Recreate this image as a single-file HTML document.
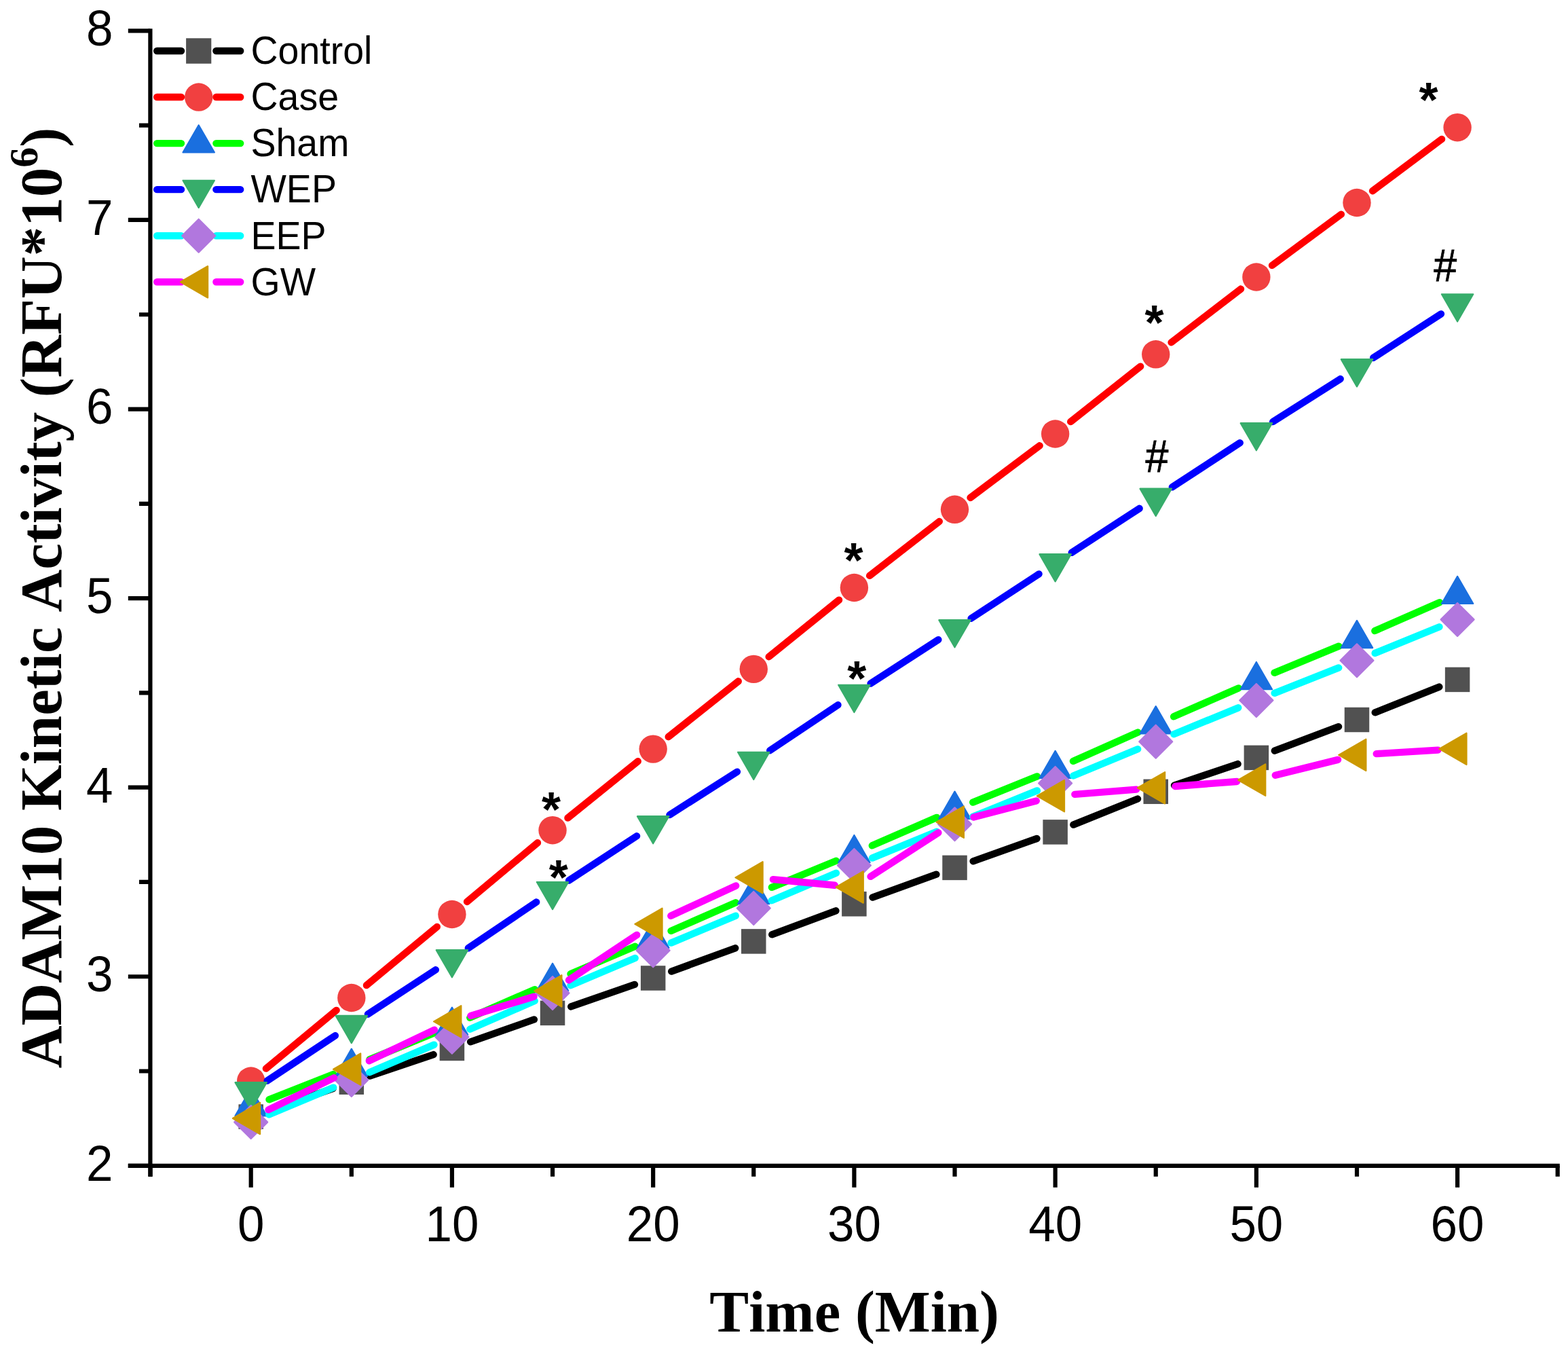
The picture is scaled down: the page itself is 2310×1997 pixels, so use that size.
<!DOCTYPE html>
<html lang="en"><head><meta charset="utf-8"><title>ADAM10 Kinetic Activity</title>
<style>
html,body{margin:0;padding:0;background:#fff;}
body{width:2310px;height:1997px;}
svg{display:block;}
text{font-kerning:none;}
.tick{font-family:"Liberation Sans",Arial,sans-serif;font-size:71px;fill:#000;}
.leg{font-family:"Liberation Sans",Arial,sans-serif;font-size:55.5px;fill:#000;}
.ttl{font-family:"Liberation Serif","Times New Roman",serif;font-weight:bold;font-size:87.0px;fill:#000;font-kerning:none;}
.star{font-family:"Liberation Sans",Arial,sans-serif;font-weight:bold;font-size:72px;fill:#000;}
.hash{font-family:"Liberation Sans",Arial,sans-serif;font-size:62.5px;fill:#000;stroke:#000;stroke-width:0.8px;}
</style></head><body>
<svg width="2310" height="1997" viewBox="0 0 2310 1997" role="img" aria-label="ADAM10 kinetic activity over time">
<rect width="2310" height="1997" fill="#ffffff"/>
<g id="plots" stroke-linecap="round" fill="none">
<g id="s-Control">
<path d="M396.94 1635.24L490.58 1603.06M545.12 1584.52L638.64 1553.08M693.11 1534.36L786.88 1501.44M841.26 1482.46L934.96 1449.94M989.22 1430.62L1083.23 1396.28M1137.28 1376.36L1231.41 1341.34M1285.5 1321.53L1379.43 1287.67M1433.66 1268.28L1527.49 1235.02M1581.35 1214.65L1676.03 1176.55M1730.05 1156.61L1823.58 1125.09M1877.81 1105.73L1972.04 1070.17M2025.74 1049.33L2120.35 1011.57" stroke="#000000" stroke-width="10.4"/>
<rect x="351.45" y="1626.35" width="36.5" height="36.5" fill="#515151"/>
<rect x="499.57" y="1575.45" width="36.5" height="36.5" fill="#515151"/>
<rect x="647.68" y="1525.65" width="36.5" height="36.5" fill="#515151"/>
<rect x="795.8" y="1473.65" width="36.5" height="36.5" fill="#515151"/>
<rect x="943.92" y="1422.25" width="36.5" height="36.5" fill="#515151"/>
<rect x="1092.03" y="1368.15" width="36.5" height="36.5" fill="#515151"/>
<rect x="1240.15" y="1313.05" width="36.5" height="36.5" fill="#515151"/>
<rect x="1388.27" y="1259.65" width="36.5" height="36.5" fill="#515151"/>
<rect x="1536.39" y="1207.15" width="36.5" height="36.5" fill="#515151"/>
<rect x="1684.5" y="1147.55" width="36.5" height="36.5" fill="#515151"/>
<rect x="1832.62" y="1097.65" width="36.5" height="36.5" fill="#515151"/>
<rect x="1980.74" y="1041.75" width="36.5" height="36.5" fill="#515151"/>
<rect x="2128.85" y="982.65" width="36.5" height="36.5" fill="#515151"/>
</g>
<g id="s-Case">
<path d="M391.89 1573.65L495.62 1487.85M539.97 1451.1L643.78 1364.9M688.03 1328.03L791.95 1241.17M836.46 1204.61L939.76 1121.19M984.72 1085.18L1087.74 1003.32M1132.67 967.28L1236.02 883.62M1281.14 847.82L1383.79 767.98M1429.54 733L1531.61 656.3M1577.22 621.13L1680.17 539.67M1725.59 504.25L1828.03 425.55M1874.03 390.88L1975.83 315.62M2022.05 281.25L2124.04 204.95" stroke="#FF0000" stroke-width="10.4"/>
<circle cx="369.7" cy="1592" r="20.7" fill="#F14040"/>
<circle cx="517.82" cy="1469.5" r="20.7" fill="#F14040"/>
<circle cx="665.93" cy="1346.5" r="20.7" fill="#F14040"/>
<circle cx="814.05" cy="1222.7" r="20.7" fill="#F14040"/>
<circle cx="962.17" cy="1103.1" r="20.7" fill="#F14040"/>
<circle cx="1110.28" cy="985.4" r="20.7" fill="#F14040"/>
<circle cx="1258.4" cy="865.5" r="20.7" fill="#F14040"/>
<circle cx="1406.52" cy="750.3" r="20.7" fill="#F14040"/>
<circle cx="1554.64" cy="639" r="20.7" fill="#F14040"/>
<circle cx="1702.75" cy="521.8" r="20.7" fill="#F14040"/>
<circle cx="1850.87" cy="408" r="20.7" fill="#F14040"/>
<circle cx="1998.99" cy="298.5" r="20.7" fill="#F14040"/>
<circle cx="2147.1" cy="187.7" r="20.7" fill="#F14040"/>
</g>
<g id="s-Sham">
<path d="M396.49 1619.32L491.03 1581.98M544.45 1560.43L639.3 1521.37M692.32 1498.86L787.67 1457.14M840.55 1434.31L935.67 1393.79M988.56 1370.97L1083.89 1329.33M1136.92 1306.83L1231.77 1267.77M1284.81 1245.32L1380.11 1203.88M1433.22 1181.62L1527.93 1143.38M1580.96 1120.92L1676.43 1078.58M1729.12 1055.31L1824.5 1013.39M1877.49 990.82L1972.36 951.68M2025.35 929.11L2120.74 887.19" stroke="#00FF00" stroke-width="10.4"/>
<polygon points="369.7,1603.1 346.49,1643.3 392.91,1643.3" fill="#1A6FDF" stroke="#1A6FDF" stroke-width="2.2" stroke-linejoin="round"/>
<polygon points="517.82,1544.6 494.61,1584.8 541.03,1584.8" fill="#1A6FDF" stroke="#1A6FDF" stroke-width="2.2" stroke-linejoin="round"/>
<polygon points="665.93,1483.6 642.72,1523.8 689.14,1523.8" fill="#1A6FDF" stroke="#1A6FDF" stroke-width="2.2" stroke-linejoin="round"/>
<polygon points="814.05,1418.8 790.84,1459 837.26,1459" fill="#1A6FDF" stroke="#1A6FDF" stroke-width="2.2" stroke-linejoin="round"/>
<polygon points="962.17,1355.7 938.96,1395.9 985.38,1395.9" fill="#1A6FDF" stroke="#1A6FDF" stroke-width="2.2" stroke-linejoin="round"/>
<polygon points="1110.28,1291 1087.08,1331.2 1133.49,1331.2" fill="#1A6FDF" stroke="#1A6FDF" stroke-width="2.2" stroke-linejoin="round"/>
<polygon points="1258.4,1230 1235.19,1270.2 1281.61,1270.2" fill="#1A6FDF" stroke="#1A6FDF" stroke-width="2.2" stroke-linejoin="round"/>
<polygon points="1406.52,1165.6 1383.31,1205.8 1429.73,1205.8" fill="#1A6FDF" stroke="#1A6FDF" stroke-width="2.2" stroke-linejoin="round"/>
<polygon points="1554.64,1105.8 1531.43,1146 1577.85,1146" fill="#1A6FDF" stroke="#1A6FDF" stroke-width="2.2" stroke-linejoin="round"/>
<polygon points="1702.75,1040.1 1679.54,1080.3 1725.96,1080.3" fill="#1A6FDF" stroke="#1A6FDF" stroke-width="2.2" stroke-linejoin="round"/>
<polygon points="1850.87,975 1827.66,1015.2 1874.08,1015.2" fill="#1A6FDF" stroke="#1A6FDF" stroke-width="2.2" stroke-linejoin="round"/>
<polygon points="1998.99,913.9 1975.78,954.1 2022.2,954.1" fill="#1A6FDF" stroke="#1A6FDF" stroke-width="2.2" stroke-linejoin="round"/>
<polygon points="2147.1,848.8 2123.89,889 2170.31,889" fill="#1A6FDF" stroke="#1A6FDF" stroke-width="2.2" stroke-linejoin="round"/>
</g>
<g id="s-WEP">
<path d="M393.7 1591.59L493.81 1525.21M541.93 1493.54L641.83 1428.26M689.8 1396.37L790.19 1328.53M838.15 1296.63L938.07 1231.27M986.46 1200.03L1085.99 1136.67M1134.23 1105.2L1234.46 1038.2M1282.59 1006.57L1382.33 942.13M1430.62 910.73L1530.54 845.37M1578.77 813.88L1678.62 748.82M1726.88 717.37L1826.75 652.23M1875.19 621.08L1974.66 558.02M2023.16 526.95L2122.93 462.35" stroke="#0000FF" stroke-width="10.4"/>
<polygon points="369.7,1634.3 346.49,1594.1 392.91,1594.1" fill="#37AD6B" stroke="#37AD6B" stroke-width="2.2" stroke-linejoin="round"/>
<polygon points="517.82,1536.1 494.61,1495.9 541.03,1495.9" fill="#37AD6B" stroke="#37AD6B" stroke-width="2.2" stroke-linejoin="round"/>
<polygon points="665.93,1439.3 642.72,1399.1 689.14,1399.1" fill="#37AD6B" stroke="#37AD6B" stroke-width="2.2" stroke-linejoin="round"/>
<polygon points="814.05,1339.2 790.84,1299 837.26,1299" fill="#37AD6B" stroke="#37AD6B" stroke-width="2.2" stroke-linejoin="round"/>
<polygon points="962.17,1242.3 938.96,1202.1 985.38,1202.1" fill="#37AD6B" stroke="#37AD6B" stroke-width="2.2" stroke-linejoin="round"/>
<polygon points="1110.28,1148 1087.08,1107.8 1133.49,1107.8" fill="#37AD6B" stroke="#37AD6B" stroke-width="2.2" stroke-linejoin="round"/>
<polygon points="1258.4,1049 1235.19,1008.8 1281.61,1008.8" fill="#37AD6B" stroke="#37AD6B" stroke-width="2.2" stroke-linejoin="round"/>
<polygon points="1406.52,953.3 1383.31,913.1 1429.73,913.1" fill="#37AD6B" stroke="#37AD6B" stroke-width="2.2" stroke-linejoin="round"/>
<polygon points="1554.64,856.4 1531.43,816.2 1577.85,816.2" fill="#37AD6B" stroke="#37AD6B" stroke-width="2.2" stroke-linejoin="round"/>
<polygon points="1702.75,759.9 1679.54,719.7 1725.96,719.7" fill="#37AD6B" stroke="#37AD6B" stroke-width="2.2" stroke-linejoin="round"/>
<polygon points="1850.87,663.3 1827.66,623.1 1874.08,623.1" fill="#37AD6B" stroke="#37AD6B" stroke-width="2.2" stroke-linejoin="round"/>
<polygon points="1998.99,569.4 1975.78,529.2 2022.2,529.2" fill="#37AD6B" stroke="#37AD6B" stroke-width="2.2" stroke-linejoin="round"/>
<polygon points="2147.1,473.5 2123.89,433.3 2170.31,433.3" fill="#37AD6B" stroke="#37AD6B" stroke-width="2.2" stroke-linejoin="round"/>
</g>
<g id="s-EEP">
<path d="M396.26 1641.46L491.26 1601.64M544.31 1579.2L639.44 1538.6M692.32 1515.76L787.67 1474.04M840.57 1451.27L935.65 1411.03M988.72 1388.63L1083.74 1348.67M1136.79 1326.23L1231.9 1285.77M1285.05 1263.58L1379.87 1224.72M1433.19 1202.94L1527.96 1164.36M1581.25 1142.49L1676.14 1103.21M1729.4 1081.26L1824.23 1042.34M1877.65 1020.8L1972.21 983.4M2025.65 961.93L2120.44 923.27" stroke="#00FFFF" stroke-width="10.4"/>
<polygon points="369.7,1628.11 394.19,1652.6 369.7,1677.09 345.21,1652.6" fill="#B177DE" stroke="#B177DE" stroke-width="2.2" stroke-linejoin="round"/>
<polygon points="517.82,1566.01 542.31,1590.5 517.82,1614.99 493.32,1590.5" fill="#B177DE" stroke="#B177DE" stroke-width="2.2" stroke-linejoin="round"/>
<polygon points="665.93,1502.81 690.43,1527.3 665.93,1551.79 641.44,1527.3" fill="#B177DE" stroke="#B177DE" stroke-width="2.2" stroke-linejoin="round"/>
<polygon points="814.05,1438.01 838.55,1462.5 814.05,1486.99 789.56,1462.5" fill="#B177DE" stroke="#B177DE" stroke-width="2.2" stroke-linejoin="round"/>
<polygon points="962.17,1375.31 986.66,1399.8 962.17,1424.29 937.67,1399.8" fill="#B177DE" stroke="#B177DE" stroke-width="2.2" stroke-linejoin="round"/>
<polygon points="1110.28,1313.01 1134.78,1337.5 1110.28,1361.99 1085.79,1337.5" fill="#B177DE" stroke="#B177DE" stroke-width="2.2" stroke-linejoin="round"/>
<polygon points="1258.4,1250.01 1282.9,1274.5 1258.4,1298.99 1233.91,1274.5" fill="#B177DE" stroke="#B177DE" stroke-width="2.2" stroke-linejoin="round"/>
<polygon points="1406.52,1189.31 1431.01,1213.8 1406.52,1238.29 1382.02,1213.8" fill="#B177DE" stroke="#B177DE" stroke-width="2.2" stroke-linejoin="round"/>
<polygon points="1554.64,1129.01 1579.13,1153.5 1554.64,1177.99 1530.14,1153.5" fill="#B177DE" stroke="#B177DE" stroke-width="2.2" stroke-linejoin="round"/>
<polygon points="1702.75,1067.71 1727.25,1092.2 1702.75,1116.69 1678.26,1092.2" fill="#B177DE" stroke="#B177DE" stroke-width="2.2" stroke-linejoin="round"/>
<polygon points="1850.87,1006.91 1875.36,1031.4 1850.87,1055.89 1826.38,1031.4" fill="#B177DE" stroke="#B177DE" stroke-width="2.2" stroke-linejoin="round"/>
<polygon points="1998.99,948.31 2023.48,972.8 1998.99,997.29 1974.49,972.8" fill="#B177DE" stroke="#B177DE" stroke-width="2.2" stroke-linejoin="round"/>
<polygon points="2147.1,887.91 2171.6,912.4 2147.1,936.89 2122.61,912.4" fill="#B177DE" stroke="#B177DE" stroke-width="2.2" stroke-linejoin="round"/>
</g>
<g id="s-GW">
<path d="M395.58 1634.37L491.94 1587.33M543.84 1562.35L639.92 1516.75M693.49 1496.03L786.49 1467.77M838.03 1443.45L938.19 1376.85M988.31 1348.81L1084.15 1304.49M1138.96 1295.13L1229.73 1303.77M1282.58 1290.86L1382.34 1226.34M1434.39 1203.45L1526.76 1179.45M1583.34 1169.89L1674.05 1162.61M1731.47 1158.05L1822.16 1150.95M1878.82 1141.76L1971.04 1118.84M2027.73 1110.15L2118.36 1104.65" stroke="#FF00FF" stroke-width="10.4"/>
<polygon points="342.9,1647 383.1,1623.79 383.1,1670.21" fill="#CC9900" stroke="#CC9900" stroke-width="2.2" stroke-linejoin="round"/>
<polygon points="491.02,1574.7 531.22,1551.49 531.22,1597.91" fill="#CC9900" stroke="#CC9900" stroke-width="2.2" stroke-linejoin="round"/>
<polygon points="639.13,1504.4 679.33,1481.19 679.33,1527.61" fill="#CC9900" stroke="#CC9900" stroke-width="2.2" stroke-linejoin="round"/>
<polygon points="787.25,1459.4 827.45,1436.19 827.45,1482.61" fill="#CC9900" stroke="#CC9900" stroke-width="2.2" stroke-linejoin="round"/>
<polygon points="935.37,1360.9 975.57,1337.69 975.57,1384.11" fill="#CC9900" stroke="#CC9900" stroke-width="2.2" stroke-linejoin="round"/>
<polygon points="1083.48,1292.4 1123.68,1269.19 1123.68,1315.61" fill="#CC9900" stroke="#CC9900" stroke-width="2.2" stroke-linejoin="round"/>
<polygon points="1231.6,1306.5 1271.8,1283.29 1271.8,1329.71" fill="#CC9900" stroke="#CC9900" stroke-width="2.2" stroke-linejoin="round"/>
<polygon points="1379.72,1210.7 1419.92,1187.49 1419.92,1233.91" fill="#CC9900" stroke="#CC9900" stroke-width="2.2" stroke-linejoin="round"/>
<polygon points="1527.84,1172.2 1568.04,1148.99 1568.04,1195.41" fill="#CC9900" stroke="#CC9900" stroke-width="2.2" stroke-linejoin="round"/>
<polygon points="1675.95,1160.3 1716.15,1137.09 1716.15,1183.51" fill="#CC9900" stroke="#CC9900" stroke-width="2.2" stroke-linejoin="round"/>
<polygon points="1824.07,1148.7 1864.27,1125.49 1864.27,1171.91" fill="#CC9900" stroke="#CC9900" stroke-width="2.2" stroke-linejoin="round"/>
<polygon points="1972.19,1111.9 2012.39,1088.69 2012.39,1135.11" fill="#CC9900" stroke="#CC9900" stroke-width="2.2" stroke-linejoin="round"/>
<polygon points="2120.3,1102.9 2160.5,1079.69 2160.5,1126.11" fill="#CC9900" stroke="#CC9900" stroke-width="2.2" stroke-linejoin="round"/>
</g>
</g>
<g id="axes" stroke="#000" stroke-width="6.2" fill="none" stroke-linecap="butt">
<path d="M188.8 1716.8H2297.8"/>
<path d="M221.4 42.3V1732.8"/>
<path d="M188.8 1716.8H221.4M205.0 1577.52H221.4M188.8 1438.23H221.4M205.0 1298.95H221.4M188.8 1159.67H221.4M205.0 1020.38H221.4M188.8 881.1H221.4M205.0 741.82H221.4M188.8 602.53H221.4M205.0 463.25H221.4M188.8 323.97H221.4M205.0 184.68H221.4M188.8 45.4H221.4M221.58 1716.8V1732.8M369.7 1716.8V1748.8M517.82 1716.8V1732.8M665.93 1716.8V1748.8M814.05 1716.8V1732.8M962.17 1716.8V1748.8M1110.28 1716.8V1732.8M1258.4 1716.8V1748.8M1406.52 1716.8V1732.8M1554.64 1716.8V1748.8M1702.75 1716.8V1732.8M1850.87 1716.8V1748.8M1998.99 1716.8V1732.8M2147.1 1716.8V1748.8M2294.7 1716.8V1732.8"/>
</g>
<g id="ticklabels" class="tick">
<text transform="translate(166.5 1738.7) scale(1 1.035)" text-anchor="end">2</text>
<text transform="translate(166.5 1460.13) scale(1 1.035)" text-anchor="end">3</text>
<text transform="translate(166.5 1181.57) scale(1 1.035)" text-anchor="end">4</text>
<text transform="translate(166.5 903) scale(1 1.035)" text-anchor="end">5</text>
<text transform="translate(166.5 624.43) scale(1 1.035)" text-anchor="end">6</text>
<text transform="translate(166.5 345.87) scale(1 1.035)" text-anchor="end">7</text>
<text transform="translate(166.5 67.3) scale(1 1.035)" text-anchor="end">8</text>
<text transform="translate(369.7 1827.8) scale(1 1.035)" text-anchor="middle">0</text>
<text transform="translate(665.93 1827.8) scale(1 1.035)" text-anchor="middle">10</text>
<text transform="translate(962.17 1827.8) scale(1 1.035)" text-anchor="middle">20</text>
<text transform="translate(1258.4 1827.8) scale(1 1.035)" text-anchor="middle">30</text>
<text transform="translate(1554.64 1827.8) scale(1 1.035)" text-anchor="middle">40</text>
<text transform="translate(1850.87 1827.8) scale(1 1.035)" text-anchor="middle">50</text>
<text transform="translate(2147.1 1827.8) scale(1 1.035)" text-anchor="middle">60</text>
</g>
<text class="ttl" x="1258.7" y="1960.6" text-anchor="middle" style="font-size:86.8px">Time (Min)</text>
<text class="ttl" transform="translate(89.8 880.6) rotate(-90)" text-anchor="middle">ADAM10 Kinetic Activity (RFU*10<tspan dy="-34.4" font-size="60">6</tspan><tspan dy="34.4">)</tspan></text>
<g id="legend">
<path d="M231.2 75H267M318.4 75H354.2" stroke="#000000" stroke-width="10.4" stroke-linecap="round" fill="none"/>
<rect x="274.1" y="56.3" width="37.2" height="37.4" fill="#515151"/>
<text class="leg" transform="translate(369.5 94.3) scale(1 1.02)">Control</text>
<path d="M231.2 143.05H267M318.4 143.05H354.2" stroke="#FF0000" stroke-width="10.4" stroke-linecap="round" fill="none"/>
<circle cx="292.7" cy="143.05" r="20.7" fill="#F14040"/>
<text class="leg" transform="translate(369.5 162.35) scale(1 1.02)">Case</text>
<path d="M231.2 211.1H267M318.4 211.1H354.2" stroke="#00FF00" stroke-width="10.4" stroke-linecap="round" fill="none"/>
<polygon points="292.7,184.3 269.49,224.5 315.91,224.5" fill="#1A6FDF" stroke="#1A6FDF" stroke-width="2.2" stroke-linejoin="round"/>
<text class="leg" transform="translate(369.5 230.4) scale(1 1.02)">Sham</text>
<path d="M231.2 279.15H267M318.4 279.15H354.2" stroke="#0000FF" stroke-width="10.4" stroke-linecap="round" fill="none"/>
<polygon points="292.7,305.95 269.49,265.75 315.91,265.75" fill="#37AD6B" stroke="#37AD6B" stroke-width="2.2" stroke-linejoin="round"/>
<text class="leg" transform="translate(369.5 298.45) scale(1 1.05)">WEP</text>
<path d="M231.2 347.2H267M318.4 347.2H354.2" stroke="#00FFFF" stroke-width="10.4" stroke-linecap="round" fill="none"/>
<polygon points="292.7,322.71 317.19,347.2 292.7,371.69 268.21,347.2" fill="#B177DE" stroke="#B177DE" stroke-width="2.2" stroke-linejoin="round"/>
<text class="leg" transform="translate(369.5 366.5) scale(1 1.05)">EEP</text>
<path d="M231.2 415.25H267M318.4 415.25H354.2" stroke="#FF00FF" stroke-width="10.4" stroke-linecap="round" fill="none"/>
<polygon points="265.9,415.25 306.1,392.04 306.1,438.46" fill="#CC9900" stroke="#CC9900" stroke-width="2.2" stroke-linejoin="round"/>
<text class="leg" transform="translate(369.5 434.55) scale(1 1.05)">GW</text>
</g>
<g id="annotations">
<text class="star" x="812" y="1216.6" text-anchor="middle">*</text>
<text class="star" x="822.7" y="1317.3" text-anchor="middle">*</text>
<text class="star" x="1257.6" y="850.2" text-anchor="middle">*</text>
<text class="star" x="1262.3" y="1023.8" text-anchor="middle">*</text>
<text class="star" x="1700.4" y="499.9" text-anchor="middle">*</text>
<text class="star" x="2104.55" y="172.45" text-anchor="middle">*</text>
<text class="hash" transform="translate(1704.55 694.8) scale(0.975 1.08)" text-anchor="middle">#</text>
<text class="hash" transform="translate(2129.2 413.6) scale(0.975 1.08)" text-anchor="middle">#</text>
</g>
</svg></body></html>
